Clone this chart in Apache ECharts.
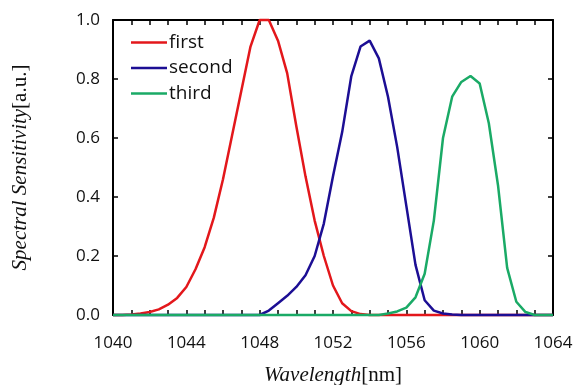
<!DOCTYPE html>
<html>
<head>
<meta charset="utf-8">
<script src="https://cdn.jsdelivr.net/npm/echarts@6/dist/echarts.min.js"></script>
<style>
  html, body { margin: 0; padding: 0; background: #fff; }
  #chart { width: 582px; height: 385px; }
</style>
</head>
<body>
<div id="chart"></div>
<script>
const wavelengths = [
  1040, 1040.5, 1041, 1041.5, 1042, 1042.5, 1043, 1043.5, 1044, 1044.5,
  1045, 1045.5, 1046, 1046.5, 1047, 1047.5, 1048, 1048.5, 1049, 1049.5,
  1050, 1050.5, 1051, 1051.5, 1052, 1052.5, 1053, 1053.5, 1054, 1054.5,
  1055, 1055.5, 1056, 1056.5, 1057, 1057.5, 1058, 1058.5, 1059, 1059.5,
  1060, 1060.5, 1061, 1061.5, 1062, 1062.5, 1063, 1063.5, 1064
];

const firstValues = [
  0, 0, 0.002, 0.005, 0.01, 0.019, 0.035, 0.058, 0.095, 0.155,
  0.23, 0.33, 0.46, 0.61, 0.76, 0.91, 1.0, 1.0, 0.93, 0.82,
  0.64, 0.47, 0.32, 0.2, 0.1, 0.04, 0.013, 0.003, 0, 0,
  0, 0, 0, 0, 0, 0, 0, 0, 0, 0,
  0, 0, 0, 0, 0, 0, 0, 0, 0
];

const secondValues = [
  0, 0, 0, 0, 0, 0, 0, 0, 0, 0,
  0, 0, 0, 0, 0, 0, 0, 0.015, 0.04, 0.065,
  0.095, 0.135, 0.2, 0.31, 0.47, 0.62, 0.81, 0.91, 0.93, 0.87,
  0.74, 0.57, 0.37, 0.17, 0.05, 0.015, 0.005, 0.002, 0, 0,
  0, 0, 0, 0, 0, 0, 0, 0, 0
];

const thirdValues = [
  0, 0, 0, 0, 0, 0, 0, 0, 0, 0,
  0, 0, 0, 0, 0, 0, 0, 0, 0, 0,
  0, 0, 0, 0, 0, 0, 0, 0, 0, 0,
  0.005, 0.012, 0.025, 0.06, 0.14, 0.32, 0.6, 0.74, 0.79, 0.81,
  0.785, 0.65, 0.44, 0.16, 0.045, 0.01, 0, 0, 0
];

const seriesNames = ['first', 'second', 'third'];
const seriesColors = ['#e3171b', '#1c0e94', '#1aaa66'];

const LABEL_FONT = '"Open Sans", Lato, sans-serif';
const SERIF = '"Liberation Serif", "DejaVu Serif", serif';

const toPairs = (values) => wavelengths.map((w, i) => [w, values[i]]);

const tickStyle = { show: true, inside: true, length: 5, lineStyle: { color: '#000', width: 1.5 } };
const minorTickStyle = { show: true, splitNumber: 4, length: 5, lineStyle: { color: '#000', width: 1.5 } };
const axisLineStyle = { show: true, onZero: false, lineStyle: { color: '#000', width: 2 } };

const chart = echarts.init(document.getElementById('chart'), null, { renderer: 'canvas' });

chart.setOption({
  animation: false,
  backgroundColor: '#fff',
  grid: { left: 113, right: 29, top: 20, bottom: 70, containLabel: false, outerBoundsMode: 'none' },
  legend: {
    orient: 'vertical',
    left: 126,
    top: 28,
    icon: 'rect',
    itemWidth: 36,
    itemHeight: 2.5,
    itemGap: 6.5,
    data: seriesNames,
    textStyle: { fontFamily: LABEL_FONT, fontSize: 19, color: '#111', padding: [0, 0, 0, -3] }
  },
  xAxis: [
    {
      type: 'value',
      min: 1040,
      max: 1064,
      interval: 4,
      position: 'bottom',
      axisLine: axisLineStyle,
      axisTick: tickStyle,
      minorTick: minorTickStyle,
      splitLine: { show: false },
      axisLabel: {
        fontFamily: LABEL_FONT,
        fontSize: 17,
        color: '#111',
        margin: 20,
        formatter: (v) => String(v)
      },
      name: '{i|Wavelength}{n|[nm]}',
      nameLocation: 'middle',
      nameGap: 50,
      nameTextStyle: {
        rich: {
          i: { fontFamily: SERIF, fontStyle: 'italic', fontSize: 21, color: '#111' },
          n: { fontFamily: SERIF, fontSize: 21, color: '#111' }
        }
      }
    },
    {
      type: 'value',
      min: 1040,
      max: 1064,
      interval: 4,
      position: 'top',
      axisLine: axisLineStyle,
      axisTick: tickStyle,
      minorTick: minorTickStyle,
      splitLine: { show: false },
      axisLabel: { show: false }
    }
  ],
  yAxis: [
    {
      type: 'value',
      min: 0,
      max: 1,
      interval: 0.2,
      position: 'left',
      axisLine: axisLineStyle,
      axisTick: tickStyle,
      splitLine: { show: false },
      axisLabel: {
        fontFamily: LABEL_FONT,
        fontSize: 17,
        color: '#111',
        margin: 13,
        formatter: (v) => v.toFixed(1)
      },
      name: '{i|Spectral Sensitivity}{n|[a.u.]}',
      nameLocation: 'middle',
      nameGap: 82,
      nameTextStyle: {
        rich: {
          i: { fontFamily: SERIF, fontStyle: 'italic', fontSize: 21, color: '#111' },
          n: { fontFamily: SERIF, fontSize: 21, color: '#111' }
        }
      }
    },
    {
      type: 'value',
      min: 0,
      max: 1,
      interval: 0.2,
      position: 'right',
      axisLine: axisLineStyle,
      axisTick: tickStyle,
      splitLine: { show: false },
      axisLabel: { show: false }
    }
  ],
  series: [firstValues, secondValues, thirdValues].map((values, i) => ({
    name: seriesNames[i],
    type: 'line',
    xAxisIndex: 0,
    yAxisIndex: 0,
    data: toPairs(values),
    symbol: 'none',
    clip: false,
    lineStyle: { color: seriesColors[i], width: 2.5 },
    itemStyle: { color: seriesColors[i] }
  }))
});
</script>
</body>
</html>
